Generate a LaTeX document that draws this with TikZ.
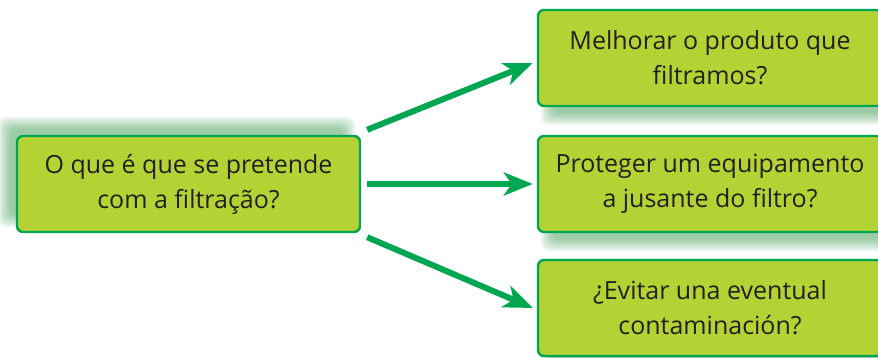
\documentclass[tikz,border=0pt]{standalone}
\usepackage{fontspec}
\setmainfont{Open Sans}
\usetikzlibrary{arrows.meta,calc,backgrounds}
\definecolor{lime}{HTML}{B3D335}
\definecolor{edge}{HTML}{00A651}
\definecolor{shad}{HTML}{3A9A50}
\definecolor{txt}{HTML}{231F20}
\begin{document}
\begin{tikzpicture}[x=1pt,y=-1pt,
  qbox/.style={draw=edge, line width=2.4pt, fill=lime, rounded corners=6pt,
    minimum height=96pt, align=center, text=txt,
    font=\fontsize{25}{35}\selectfont, inner sep=0pt},
  shadowlayer/.style={fill=shad, fill opacity=0.075, rounded corners=8pt},
  conn/.style={draw=edge, line width=6pt, -{Stealth[length=29pt,width=23pt,inset=8pt]}}]
\useasboundingbox (0,0) rectangle (878,358);
\begin{scope}
\clip (0,0) rectangle (878,358);
\node[qbox, minimum width=343pt] (L) at (188.5,184) {O que é que se pretende\\com a filtração?};
\node[qbox, minimum width=344pt] (R1) at (710,58) {Melhorar o produto que\\filtramos?};
\node[qbox, minimum width=344pt] (R2) at (710,184) {Proteger um equipamento\\a jusante do filtro?};
\node[qbox, minimum width=344pt] (R3) at (710,308) {¿Evitar una eventual\\contaminación?};
\begin{scope}[on background layer]
\foreach \d in {-6,-4.5,...,6} {
  \fill[shadowlayer] ($(L.north west)+(-12-\d,-12-\d)$) rectangle ($(L.south east)+(-12+\d,-12+\d)$);
  \foreach \n in {R1,R2,R3} {
    \fill[shadowlayer] ($(\n.north west)+(10-\d,12-\d)$) rectangle ($(\n.south east)+(10+\d,12+\d)$);
  }
}
\end{scope}
\end{scope}
\draw[conn] ([xshift=6pt,yshift=5pt]L.north east) -- ([xshift=-4pt,yshift=-5pt]R1.west);
\draw[conn] ([xshift=6pt]L.east) -- ([xshift=-4pt]R2.west);
\draw[conn] ([xshift=6pt,yshift=-4pt]L.south east) -- ([xshift=-4pt]R3.west);
\end{tikzpicture}
\end{document}
